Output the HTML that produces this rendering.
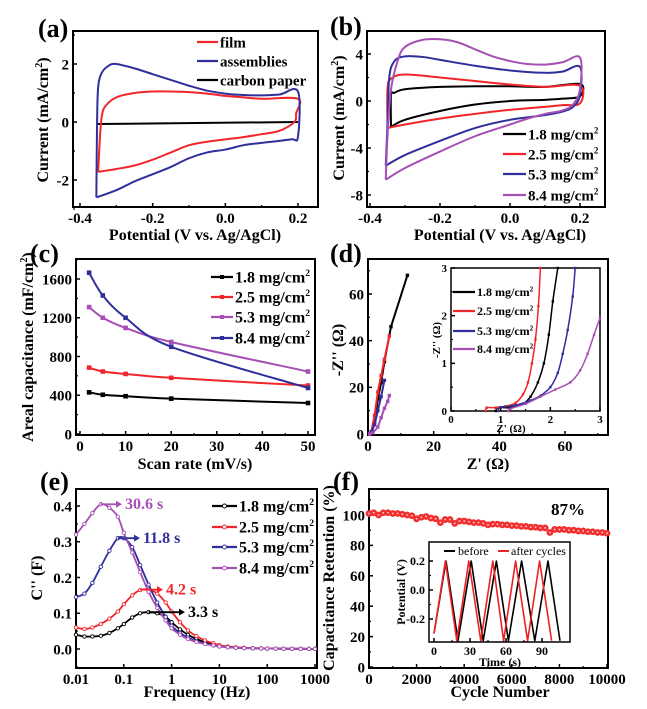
<!DOCTYPE html>
<html><head><meta charset="utf-8"><style>
html,body{margin:0;padding:0;background:#fff;}
svg{display:block;font-family:"Liberation Serif",serif;font-weight:bold;}
</style></head><body>
<svg id="fig" width="647" height="709" viewBox="0 0 647 709" xmlns="http://www.w3.org/2000/svg"></svg>
<script>
// ---------- DATA ----------
// (a)
const aFilmV=[-0.35,-0.345,-0.34,-0.33,-0.3,-0.25,-0.2,-0.15,-0.1,-0.05,0,0.05,0.1,0.2,0.195,0.19,0.15,0.1,0.05,0,-0.05,-0.1,-0.15,-0.2,-0.25,-0.3,-0.35];
const aFilmI=[-1.72,-0.5,0.2,0.55,0.85,1.0,1.05,1.05,1.03,0.98,0.9,0.85,0.8,0.8,0.3,0,-0.3,-0.42,-0.52,-0.6,-0.68,-0.8,-1.05,-1.3,-1.5,-1.62,-1.72];
const aAsmV=[-0.355,-0.353,-0.35,-0.34,-0.32,-0.3,-0.25,-0.2,-0.15,-0.1,-0.05,0,0.05,0.1,0.15,0.2,0.2,0.18,0.1,0.05,0,-0.05,-0.1,-0.15,-0.2,-0.25,-0.3,-0.355];
const aAsmI=[-2.6,0,1.2,1.7,1.95,2.0,1.85,1.65,1.45,1.25,1.08,0.98,0.93,0.92,0.95,1.05,-0.5,-0.6,-0.72,-0.8,-0.95,-1.05,-1.25,-1.55,-1.8,-2.05,-2.35,-2.6];
const aCpV=[-0.355,0.2];
const aCpI=[-0.07,0];
// (b)
const b18V=[-0.34,-0.34,-0.33,-0.3,-0.2,-0.1,0,0.1,0.2,0.2,0.15,0.1,0,-0.1,-0.2,-0.3,-0.34];
const b18I=[-2.2,0.5,0.7,1.0,1.2,1.25,1.25,1.2,1.45,0.4,0.2,0.1,0,-0.3,-0.85,-1.6,-2.2];
const b25V=[-0.35,-0.35,-0.34,-0.3,-0.2,-0.1,0,0.1,0.2,0.2,0.15,0.1,0,-0.1,-0.2,-0.3,-0.35];
const b25I=[-2.3,1.0,1.9,2.25,2.0,1.7,1.4,1.2,1.3,-0.2,-0.35,-0.5,-0.75,-1.1,-1.5,-2.0,-2.3];
const b53V=[-0.355,-0.35,-0.345,-0.33,-0.3,-0.25,-0.2,-0.1,0,0.1,0.15,0.2,0.2,0.18,0.15,0.1,0,-0.1,-0.2,-0.3,-0.355];
const b53I=[-5.5,-2,2,3.4,3.8,3.75,3.5,3.0,2.6,2.4,2.5,2.9,0.5,-0.5,-0.9,-1.2,-1.6,-2.3,-3.4,-4.6,-5.5];
const b84V=[-0.355,-0.35,-0.34,-0.32,-0.3,-0.25,-0.2,-0.15,-0.1,-0.05,0,0.05,0.1,0.15,0.2,0.2,0.18,0.15,0.1,0.05,0,-0.1,-0.2,-0.3,-0.355];
const b84I=[-6.7,-3,1,3.5,4.6,5.2,5.25,5.0,4.4,3.8,3.4,3.15,3.1,3.3,3.7,1,-0.3,-0.8,-1.1,-1.5,-2.0,-3.0,-4.3,-5.7,-6.7];
// (c)
const scanRates=[2,5,10,20,50];
const c18=[430,405,390,365,320];
const c25=[685,645,620,580,500];
const c53=[1310,1200,1095,950,645];
const c84=[1665,1430,1200,900,475];
// (d) main
const d18X=[0.5,1.2,2,3,4,5,7,12];
const d18Y=[0,1,5,15,22,31,46,68];
const d25X=[0.5,1,2,3,4,5,6.5];
const d25Y=[0,1,8,18,25,32,42];
const d53X=[0.5,1,2,3,4,5];
const d53Y=[0,1,4,10,16,23];
const d84X=[0.5,1.5,3,4,5,6,6.5];
const d84Y=[0,0.5,3,7,11,14,16.5];
// (d) inset
const i18X=[0.9,0.95,1.2,1.45,1.6,1.75,1.87,1.97,2.05,2.15];
const i18Y=[0,0.07,0.07,0.15,0.3,0.6,1,1.6,2.3,3];
const i25X=[0.7,0.72,0.9,1.1,1.3,1.45,1.55,1.63,1.7,1.76,1.8];
const i25Y=[0,0.07,0.07,0.1,0.17,0.35,0.6,1,1.5,2.2,3];
const i53X=[0.95,1.0,1.3,1.6,1.8,2.0,2.15,2.25,2.35,2.45,2.5];
const i53Y=[0,0.08,0.12,0.22,0.32,0.5,0.8,1.2,1.7,2.4,3];
const i84X=[1.15,1.2,1.5,1.8,2.1,2.4,2.6,2.75,2.88,3];
const i84Y=[0,0.05,0.15,0.3,0.45,0.6,0.85,1.2,1.6,1.95];
// (e)
const freqs=[0.01,0.015,0.022,0.033,0.05,0.075,0.1,0.15,0.22,0.33,0.5,0.75,1,1.5,2.2,3.3,5,7.5,10,15,22,33,50,75,100,150,220,330,500,750,1000];
const e18=[0.04,0.035,0.035,0.037,0.045,0.058,0.07,0.088,0.1,0.103,0.1,0.09,0.075,0.055,0.04,0.028,0.019,0.013,0.009,0.006,0.004,0.003,0.002,0.0015,0.001,0.001,0.0008,0.0006,0.0005,0.0004,0.0003];
const e25=[0.06,0.056,0.06,0.07,0.085,0.105,0.125,0.15,0.165,0.166,0.155,0.13,0.105,0.075,0.052,0.036,0.024,0.016,0.011,0.007,0.005,0.0035,0.0025,0.002,0.0015,0.001,0.0008,0.0006,0.0005,0.0004,0.0003];
const e53=[0.145,0.155,0.185,0.23,0.275,0.31,0.31,0.285,0.235,0.18,0.13,0.09,0.065,0.045,0.032,0.022,0.015,0.01,0.007,0.005,0.0035,0.0025,0.002,0.0015,0.001,0.001,0.0008,0.0006,0.0005,0.0004,0.0003];
const e84=[0.32,0.35,0.38,0.405,0.395,0.37,0.325,0.27,0.215,0.16,0.115,0.08,0.058,0.04,0.028,0.02,0.014,0.01,0.007,0.005,0.0035,0.0025,0.002,0.0015,0.001,0.001,0.0008,0.0006,0.0005,0.0004,0.0003];
const ePeakF=[0.33,0.22,0.075,0.033];
const ePeakV=[0.103,0.166,0.31,0.405];
const eTauLabels=["3.3 s","4.2 s","11.8 s","30.6 s"];
// (f)
const cycles=[0,200,400,600,800,1000,1200,1400,1600,1800,2000,2200,2400,2600,2800,3000,3200,3400,3600,3800,4000,4200,4400,4600,4800,5000,5200,5400,5600,5800,6000,6200,6400,6600,6800,7000,7200,7400,7600,7800,8000,8200,8400,8600,8800,9000,9200,9400,9600,9800,10000];
const retention=[101,101.5,100,101.5,101.5,101,101,100.5,100,99.5,97.5,98.5,99,98,97.5,95,97,97,94.5,96,96,95.5,95,95,94.5,93.5,94,94,93.5,93.5,93,93,92.5,92.5,92,92,91.5,91.5,88.5,90.5,90.5,90.5,90,90,89.5,89.5,89,89,88.5,88.5,88];
const beforeT=[0,10,20,31,41,52,62,73,84,95,105];
const beforeV=[-0.3,0.2,-0.35,0.2,-0.35,0.2,-0.35,0.2,-0.35,0.2,-0.35];
const afterT=[0,9.5,19,29,39,49,58,68,78,88,98];
const afterV=[-0.3,0.2,-0.35,0.2,-0.35,0.2,-0.35,0.2,-0.35,0.2,-0.35];

// ---------- HELPERS ----------
const NS="http://www.w3.org/2000/svg";
const svg=document.getElementById('fig');
function mk(tag,attrs,parent){const e=document.createElementNS(NS,tag);for(const k in attrs)e.setAttribute(k,attrs[k]);(parent||svg).appendChild(e);return e;}
function lin(d0,d1,r0,r1){return v=>r0+(v-d0)*(r1-r0)/(d1-d0);}
const RED="#f2262a",BLUE="#2f2f9c",PURP="#a64fb4",BLK="#000";
const TS=15, AS=16;
function txt(x,y,s,size,anchor,fill,rot){
  const t=mk('text',{x:x,y:y,'font-size':size,'text-anchor':anchor||'middle',fill:fill||'#000'});
  if(rot)t.setAttribute('transform','rotate(-90 '+x+' '+y+')');
  t.textContent=s;return t;}
function frame(f,name){
  const r=mk('rect',{x:f.l,y:f.t,width:f.r-f.l,height:f.b-f.t,fill:'none',stroke:'#000','stroke-width':f.sw||2});
  
  }
function xticks(f,sx,major,minor,labels,size,name){
  const g=mk('g',{});
  
  
  major.forEach((v,i)=>{const x=sx(v);mk('line',{x1:x,x2:x,y1:f.b,y2:f.b-4,stroke:'#000','stroke-width':1.5},g);
    txt(x,f.b+size+1,labels[i],size,'middle','#000');});
  minor.forEach(v=>{const x=sx(v);mk('line',{x1:x,x2:x,y1:f.b,y2:f.b-2,stroke:'#000','stroke-width':1.2},g);});
}
function yticks(f,sy,major,minor,labels,size,name){
  const g=mk('g',{});
  
  
  major.forEach((v,i)=>{const y=sy(v);mk('line',{x1:f.l,x2:f.l+4,y1:y,y2:y,stroke:'#000','stroke-width':1.5},g);
    txt(f.l-4,y+size*0.35,labels[i],size,'end','#000');});
  minor.forEach(v=>{const y=sy(v);mk('line',{x1:f.l,x2:f.l+2,y1:y,y2:y,stroke:'#000','stroke-width':1.2},g);});
}
function poly(xs,ys,sx,sy,color,w,name,smooth){
  const P=xs.map((x,i)=>[sx(x),sy(ys[i])]);
  let d='M'+P[0][0].toFixed(2)+','+P[0][1].toFixed(2);
  for(let i=0;i<P.length-1;i++){
    if(smooth){
      const p0=P[Math.max(0,i-1)],p1=P[i],p2=P[i+1],p3=P[Math.min(P.length-1,i+2)];
      const c1=[p1[0]+(p2[0]-p0[0])/6,p1[1]+(p2[1]-p0[1])/6],c2=[p2[0]-(p3[0]-p1[0])/6,p2[1]-(p3[1]-p1[1])/6];
      d+=' C'+c1[0].toFixed(2)+','+c1[1].toFixed(2)+' '+c2[0].toFixed(2)+','+c2[1].toFixed(2)+' '+p2[0].toFixed(2)+','+p2[1].toFixed(2);
    } else d+=' L'+P[i+1][0].toFixed(2)+','+P[i+1][1].toFixed(2);
  }
  const p=mk('path',{d:d,fill:'none',stroke:color,'stroke-width':w||2,'stroke-linejoin':'round'});
  
  
  return p;}
function markers(xs,ys,sx,sy,color,shape,r,name){
  const g=mk('g',{});
  
  
  xs.forEach((x,i)=>{const X=sx(x),Y=sy(ys[i]);
    if(shape==='sq')mk('rect',{x:X-r,y:Y-r,width:2*r,height:2*r,fill:color},g);
    else if(shape==='oc')mk('circle',{cx:X,cy:Y,r:r,fill:'#fff',stroke:color,'stroke-width':0.9},g);
    else mk('circle',{cx:X,cy:Y,r:r,fill:color},g);});
}
function legendEntry(x1,x2,y,color,label,size,name,mshape){
  const g=mk('g',{});
  
  
  mk('line',{x1:x1,x2:x2,y1:y,y2:y,stroke:color,'stroke-width':2.2},g);
  const mx=(x1+x2)/2;
  if(mshape==='sq')mk('rect',{x:mx-2,y:y-2,width:4,height:4,fill:color},g);
  if(mshape==='oc')mk('circle',{cx:mx,cy:y,r:2,fill:'#fff',stroke:color,'stroke-width':0.9},g);
  const t=mk('text',{x:x2+2,y:y+size*0.35,'font-size':size,'text-anchor':'start',fill:'#000'},g);
  if(label.endsWith('cm2')){t.textContent=label.slice(0,-1);const s=mk('tspan',{dy:-size*0.4,'font-size':size*0.6},t);s.textContent='2';}
  else t.textContent=label;
}
function panelLabel(x,y,s,name){const t=txt(x,y,s,26,'start');}
function axisTitle(x,y,s,rot,name,sup){
  const t=mk('text',{x:x,y:y,'font-size':AS,'text-anchor':'middle',fill:'#000'});
  if(rot)t.setAttribute('transform','rotate(-90 '+x+' '+y+')');
  if(sup){t.appendChild(document.createTextNode(s[0]));const s2=mk('tspan',{dy:-6,'font-size':10},t);s2.textContent='2';const s3=mk('tspan',{dy:6},t);s3.textContent=s[1];}
  else t.textContent=s;
  
  }

// ---------- PANEL A ----------
(function(){
  const f={l:73,r:318,t:31,b:207};
  const sx=lin(-0.4,0.2,80,298), sy=lin(0,2,122,64);
  frame(f,'panel-a-frame');
  xticks(f,sx,[-0.4,-0.2,0,0.2],[-0.3,-0.1,0.1],['-0.4','-0.2','0.0','0.2'],TS,'panel-a-x-axis');
  yticks(f,sy,[-2,0,2],[-3,-1,1,3],['-2','0','2'],TS,'panel-a-y-axis');
  poly(aCpV,aCpI,sx,sy,BLK,2,'carbon-paper-cv');
  poly(aFilmV,aFilmI,sx,sy,RED,2,'film-cv',true);
  poly(aAsmV,aAsmI,sx,sy,BLUE,2,'assemblies-cv',true);
  legendEntry(197,218,42,RED,'film',TS,'legend-film');
  legendEntry(197,218,61,BLUE,'assemblies',TS,'legend-assemblies');
  legendEntry(197,218,80,BLK,'carbon paper',TS,'legend-carbon-paper');
  panelLabel(38,37,'(a)','panel-a-label');
  axisTitle(195,240,'Potential (V vs. Ag/AgCl)',false,'panel-a-x-title');
  axisTitle(48,120,['Current (mA/cm',')'],true,'panel-a-y-title',true);
})();
// ---------- PANEL B ----------
(function(){
  const f={l:367,r:605,t:31,b:207};
  const sx=lin(-0.4,0.2,370,580), sy=lin(0,4,101,54);
  frame(f,'panel-b-frame');
  xticks(f,sx,[-0.4,-0.2,0,0.2],[-0.3,-0.1,0.1],['-0.4','-0.2','0.0','0.2'],TS,'panel-b-x-axis');
  yticks(f,sy,[-8,-4,0,4],[-6,-2,2],['-8','-4','0','4'],TS,'panel-b-y-axis');
  poly(b18V,b18I,sx,sy,BLK,2,'cv-1-8',true);
  poly(b25V,b25I,sx,sy,RED,2,'cv-2-5',true);
  poly(b53V,b53I,sx,sy,BLUE,2,'cv-5-3',true);
  poly(b84V,b84I,sx,sy,PURP,2,'cv-8-4',true);
  legendEntry(503,526,134,BLK,'1.8 mg/cm2',TS,'legend-1-8');
  legendEntry(503,526,154,RED,'2.5 mg/cm2',TS,'legend-2-5');
  legendEntry(503,526,174,BLUE,'5.3 mg/cm2',TS,'legend-5-3');
  legendEntry(503,526,195,PURP,'8.4 mg/cm2',TS,'legend-8-4');
  panelLabel(330,35,'(b)','panel-b-label');
  axisTitle(500,240,'Potential (V vs. Ag/AgCl)',false,'panel-b-x-title');
  axisTitle(344,118,['Current (mA/cm',')'],true,'panel-b-y-title',true);
})();
// ---------- PANEL C ----------
(function(){
  const f={l:76,r:315,t:259,b:435};
  const sx=lin(0,50,80,308), sy=lin(0,1600,434,279);
  frame(f,'panel-c-frame');
  xticks(f,sx,[0,10,20,30,40,50],[5,15,25,35,45],['0','10','20','30','40','50'],TS,'panel-c-x-axis');
  yticks(f,sy,[0,400,800,1200,1600],[200,600,1000,1400,1800],['0','400','800','1200','1600'],TS,'panel-c-y-axis');
  [[c18,BLK,'1-8'],[c25,RED,'2-5'],[c53,PURP,'5-3'],[c84,BLUE,'8-4']].forEach(s=>{
    poly(scanRates,s[0],sx,sy,s[1],2,'line-'+s[2],true);
    markers(scanRates,s[0],sx,sy,s[1],'sq',2.3,'markers-'+s[2]);});
  legendEntry(211,233,277,BLK,'1.8 mg/cm2',16,'legend-1-8','sq');
  legendEntry(211,233,297,RED,'2.5 mg/cm2',16,'legend-2-5','sq');
  legendEntry(211,233,317,PURP,'5.3 mg/cm2',16,'legend-5-3','sq');
  legendEntry(211,233,338,BLUE,'8.4 mg/cm2',16,'legend-8-4','sq');
  panelLabel(30,262,'(c)','panel-c-label');
  axisTitle(195,469,'Scan rate (mV/s)',false,'panel-c-x-title');
  axisTitle(33,347,['Areal capacitance (mF/cm',')'],true,'panel-c-y-title',true);
})();
// ---------- PANEL D ----------
(function(){
  const f={l:368,r:608,t:259,b:435};
  const sx=lin(0,60,368,565), sy=lin(0,60,434,294);
  frame(f,'panel-d-frame');
  xticks(f,sx,[0,20,40,60],[10,30,50,70],['0','20','40','60'],TS,'panel-d-x-axis');
  yticks(f,sy,[0,20,40,60],[10,30,50,70],['0','20','40','60'],TS,'panel-d-y-axis');
  [[d18X,d18Y,BLK,'1-8'],[d25X,d25Y,RED,'2-5'],[d53X,d53Y,BLUE,'5-3'],[d84X,d84Y,PURP,'8-4']].forEach(s=>{
    poly(s[0],s[1],sx,sy,s[2],2,'nyquist-'+s[3]);
    markers(s[0],s[1],sx,sy,s[2],'sq',1.7,'nyquist-markers-'+s[3]);});
  const fi={l:451,r:600,t:268,b:411,sw:1.5};
  const ix=lin(0,3,451,600), iy=lin(0,3,411,268);
  frame(fi,'panel-d-inset-frame');
  xticks(fi,ix,[0,1,2,3],[0.5,1.5,2.5],['0','1','2','3'],11,'inset-d-x-axis');
  yticks(fi,iy,[0,1,2,3],[0.5,1.5,2.5],['0','1','2','3'],11,'inset-d-y-axis');
  [[i18X,i18Y,BLK,'1-8'],[i25X,i25Y,RED,'2-5'],[i53X,i53Y,BLUE,'5-3'],[i84X,i84Y,PURP,'8-4']].forEach(s=>{
    poly(s[0],s[1],ix,iy,s[2],1.5,'inset-nyquist-'+s[3],true);
    markers(s[0],s[1],ix,iy,s[2],'sq',1.2,'inset-markers-'+s[3]);});
  legendEntry(453,475,292,BLK,'1.8 mg/cm2',12,'inset-legend-1-8');
  legendEntry(453,475,311,RED,'2.5 mg/cm2',12,'inset-legend-2-5');
  legendEntry(453,475,331,BLUE,'5.3 mg/cm2',12,'inset-legend-5-3');
  legendEntry(453,475,349,PURP,'8.4 mg/cm2',12,'inset-legend-8-4');
  const t1=txt(511,432,"Z' (\u03A9)",11,'middle');
  const t2=txt(440,340,"-Z'' (\u03A9)",11,'middle','#000',true);
  panelLabel(330,262,'(d)','panel-d-label');
  axisTitle(488,469,"Z' (\u03A9)",false,'panel-d-x-title');
  axisTitle(343,350,"-Z'' (\u03A9)",true,'panel-d-y-title');
})();
// ---------- PANEL E ----------
(function(){
  const f={l:76,r:317,t:489,b:668};
  const sx=v=>76+47.8*(Math.log10(v)+2), sy=lin(0,0.4,649,506);
  frame(f,'panel-e-frame');
  xticks(f,sx,[0.01,0.1,1,10,100,1000],[],['0.01','0.1','1','10','100','1000'],TS,'panel-e-x-axis');
  yticks(f,sy,[0,0.1,0.2,0.3,0.4],[-0.05,0.05,0.15,0.25,0.35],['0.0','0.1','0.2','0.3','0.4'],TS,'panel-e-y-axis');
  const cols=[BLK,RED,BLUE,PURP], keys=['1-8','2-5','5-3','8-4'];
  [e18,e25,e53,e84].forEach((s,i)=>{
    poly(freqs,s,sx,sy,cols[i],1.8,'cpp-'+keys[i],true);
    markers(freqs,s,sx,sy,cols[i],'oc',1.7,'cpp-markers-'+keys[i]);});
  const arrowEnd=[185,163,140,122];
  ePeakF.forEach((fq,i)=>{
    const x0=sx(fq), y0=sy(ePeakV[i]);
    const g=mk('g',{});
    
    
    mk('line',{x1:x0,y1:y0,x2:arrowEnd[i]-5,y2:y0,stroke:cols[i],'stroke-width':1.8},g);
    mk('polygon',{points:(arrowEnd[i]-6)+','+(y0-3.5)+' '+arrowEnd[i]+','+y0+' '+(arrowEnd[i]-6)+','+(y0+3.5),fill:cols[i]},g);
    const t=mk('text',{x:arrowEnd[i]+3,y:y0+5,'font-size':16,fill:cols[i]},g);t.textContent=eTauLabels[i];
  });
  legendEntry(212,237,506,BLK,'1.8 mg/cm2',16,'legend-1-8','oc');
  legendEntry(212,237,527,RED,'2.5 mg/cm2',16,'legend-2-5','oc');
  legendEntry(212,237,547,BLUE,'5.3 mg/cm2',16,'legend-5-3','oc');
  legendEntry(212,237,568,PURP,'8.4 mg/cm2',16,'legend-8-4','oc');
  panelLabel(40,490,'(e)','panel-e-label');
  axisTitle(197,697,'Frequency (Hz)',false,'panel-e-x-title');
  axisTitle(42,578,"C'' (F)",true,'panel-e-y-title');
})();
// ---------- PANEL F ----------
(function(){
  const f={l:369,r:608,t:489,b:668};
  const sx=lin(0,10000,369,607), sy=lin(0,100,667,515);
  frame(f,'panel-f-frame');
  xticks(f,sx,[0,2000,4000,6000,8000,10000],[1000,3000,5000,7000,9000],['0','2000','4000','6000','8000','10000'],TS,'panel-f-x-axis');
  yticks(f,sy,[0,20,40,60,80,100],[10,30,50,70,90,110],['0','20','40','60','80','100'],TS,'panel-f-y-axis');
  markers(cycles,retention,sx,sy,'#f23030','fc',3.4,'retention-markers');
  markers(cycles,retention,sx,sy,'#ffd0d0','fc',0.9,'retention-marker-centers');
  const p=txt(568,515,'87%',17,'middle');
  const fi={l:429,r:570,t:542,b:642,sw:1.5};
  const ix=lin(0,90,434,542), iy=lin(-0.2,0.2,619,561);
  mk('rect',{x:fi.l,y:fi.t,width:fi.r-fi.l,height:fi.b-fi.t,fill:'#fff'});
  poly(beforeT,beforeV,ix,iy,BLK,1.6,'gcd-before');
  poly(afterT,afterV,ix,iy,'#ee2222',1.6,'gcd-after');
  frame(fi,'panel-f-inset-frame');
  xticks(fi,ix,[0,30,60,90],[15,45,75],['0','30','60','90'],12,'inset-f-x-axis');
  yticks(fi,iy,[-0.2,0,0.2],[-0.1,0.1],['-0.2','0.0','0.2'],12,'inset-f-y-axis');
  const g1=mk('g',{});
  
  
  mk('line',{x1:444,x2:455,y1:551,y2:551,stroke:BLK,'stroke-width':2},g1);
  const tb=mk('text',{x:458,y:555,'font-size':12,'font-weight':'normal',fill:'#000'},g1);tb.textContent='before';
  const g2=mk('g',{});
  
  
  mk('line',{x1:498,x2:509,y1:551,y2:551,stroke:'#ee2222','stroke-width':2},g2);
  const ta=mk('text',{x:511,y:555,'font-size':12,'font-weight':'normal',fill:'#000'},g2);ta.textContent='after cycles';
  const t1=txt(500,666,'Time (s)',12,'middle');
  const t2=txt(405,592,'Potential (V)',12,'middle','#000',true);
  panelLabel(333,490,'(f)','panel-f-label');
  axisTitle(500,697,'Cycle Number',false,'panel-f-x-title');
  axisTitle(334,578,'Capacitance Retention (%)',true,'panel-f-y-title');
})();
</script>
</body></html>
